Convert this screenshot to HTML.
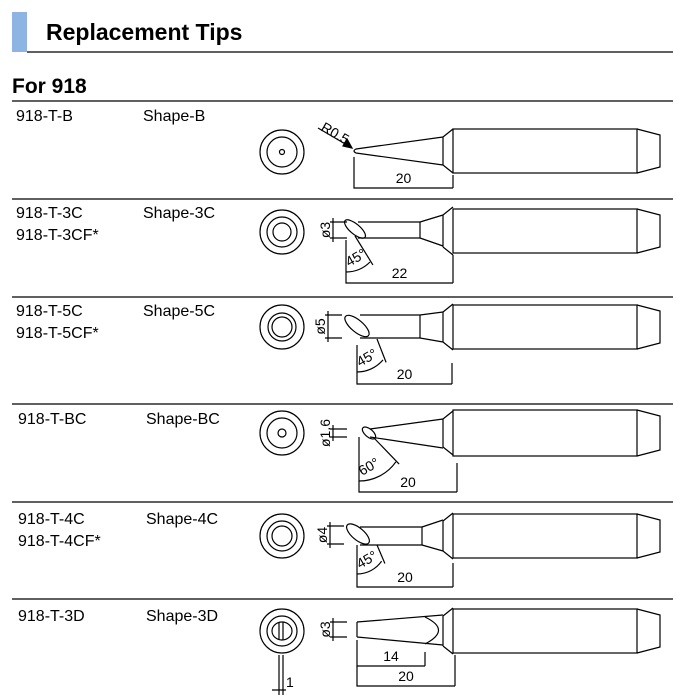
<!DOCTYPE html>
<html><head><meta charset="utf-8"><style>
html,body{margin:0;padding:0;background:#fff;width:700px;height:700px;overflow:hidden}
svg{display:block}
text{font-family:"Liberation Sans",Arial,sans-serif;fill:#000}
</style></head><body>
<svg id="s" width="700" height="700" viewBox="0 0 700 700" xmlns="http://www.w3.org/2000/svg">
<rect x="12" y="12" width="15" height="40" fill="#8db4e2"/>
<line x1="27" y1="52" x2="673" y2="52" stroke="#000" stroke-width="1.2"/>
<text x="46" y="40" font-size="23" font-weight="bold">Replacement Tips</text>
<text x="12" y="93" font-size="21" font-weight="bold">For 918</text>
<g stroke="#000" stroke-width="1.2">
<line x1="12" y1="101" x2="673" y2="101"/>
<line x1="12" y1="199" x2="673" y2="199"/>
<line x1="12" y1="297" x2="673" y2="297"/>
<line x1="12" y1="404" x2="673" y2="404"/>
<line x1="12" y1="502" x2="673" y2="502"/>
<line x1="12" y1="599" x2="673" y2="599"/>
</g>
<g font-size="16">
<text x="16" y="121">918-T-B</text><text x="143" y="121">Shape-B</text>
<text x="16" y="218">918-T-3C</text><text x="16" y="240">918-T-3CF*</text><text x="143" y="218">Shape-3C</text>
<text x="16" y="316">918-T-5C</text><text x="16" y="338">918-T-5CF*</text><text x="143" y="316">Shape-5C</text>
<text x="18" y="424">918-T-BC</text><text x="146" y="424">Shape-BC</text>
<text x="18" y="524">918-T-4C</text><text x="18" y="546">918-T-4CF*</text><text x="146" y="524">Shape-4C</text>
<text x="18" y="621">918-T-3D</text><text x="146" y="621">Shape-3D</text>
</g>
<g id="d" fill="none" stroke="#000" stroke-width="1.2"></g>
<g id="t" font-size="14"></g>
</svg>
<script>
var d=document.getElementById('d'),t=document.getElementById('t'),h='',tx='';
function body(cy,hh){
 var a=cy-hh,b=cy+hh;
 h+='<rect x="453" y="'+a+'" width="184" height="'+(2*hh)+'"/>';
 h+='<path d="M637 '+a+' L660 '+(a+6)+' L660 '+(b-6)+' L637 '+b+'"/>';
}
function collar(cy,ch){h+='<path d="M443 '+(cy-ch)+' L453 '+(cy-ch-8)+' M443 '+(cy+ch)+' L453 '+(cy+ch+8)+' M443 '+(cy-ch)+' L443 '+(cy+ch)+'"/>';}
function circ(cx,cy,rs){rs.forEach(function(r){h+='<circle cx="'+cx+'" cy="'+cy+'" r="'+r+'"/>';});}
function dim(x1,x2,y,y1a,y2a,lab){h+='<path d="M'+x1+' '+y1a+' V'+y+' H'+x2+' M'+x2+' '+y2a+' V'+y+'"/>';tx+='<text x="'+((x1+x2)/2)+'" y="'+(y-5)+'" text-anchor="middle">'+lab+'</text>';}
function dia(x,y1,y2,lab){h+='<path d="M'+(x-3)+' '+y1+' H'+(x+14)+' M'+(x-3)+' '+y2+' H'+(x+14)+' M'+x+' '+(y1-4)+' V'+(y2+4)+'"/>';tx+='<text transform="translate('+(x-3)+','+((y1+y2)/2)+') rotate(-90)" text-anchor="middle">'+lab+'</text>';}
function chisel(cx,cy,rx,ry){h+='<ellipse cx="'+cx+'" cy="'+cy+'" rx="'+rx+'" ry="'+ry+'" transform="rotate(40 '+cx+' '+cy+')"/>';}
function arc(x,y,r,ang,lab,sx,sy){var a=ang*Math.PI/180;var ex=x+r*Math.sin(a),ey=y+r*Math.cos(a);
 h+='<path d="M'+sx+' '+sy+' L'+(x+(r+4)*Math.sin(a)).toFixed(1)+' '+(y+(r+4)*Math.cos(a)).toFixed(1)+'"/>';
 h+='<path d="M'+x+' '+(y+r)+' A'+r+' '+r+' 0 0 0 '+ex.toFixed(1)+' '+ey.toFixed(1)+'"/>';
 tx+='<text transform="translate('+(x+3)+','+(y+r-5)+') rotate(-30)" font-size="14">'+lab+'</text>';}
// Row1
circ(282,152,[22,15,2.5]);
h+='<path d="M443 137 L356 149 Q352 151 356 153 L443 165"/>';collar(151,14);body(151,22);
h+='<path d="M318 128 L347 145"/><polygon points="352,148 343,146 347,139" fill="#000"/>';
tx+='<text transform="translate(320,130) rotate(30)">R0.5</text>';
dim(354,453,188,157,175,'20');
// Row2 cy 231
circ(282,232,[22,15,9]);
h+='<path d="M358 222 H420 M358 238 H420 M420 222 V238 M420 222 L443 215 M420 238 L443 246"/>';collar(231,16);body(231,22);
chisel(355,229,13,5);dia(333,222,238,'ø3');
arc(346,238,34,45,'45°',355,236);
dim(346,453,283,240,255,'22');
// Row3 cy 327
circ(282,327,[22,14,10]);
h+='<path d="M360 315 H420 M360 338 H420 M420 315 V338 M420 315 L443 312 M420 338 L443 342"/>';collar(327,15);body(327,22);
chisel(357,326,15,6);dia(328,315,338,'ø5');
arc(357,338,34,50,'45°',377,339);
dim(357,452,384,345,363,'20');
// Row4 cy 433
circ(282,433,[22,15,4]);
h+='<path d="M443 419 L370 429 M443 448 L370 437"/>';collar(433,14);body(433,23);
chisel(369,433,8,4);dia(333,429,437,'ø1.6');
arc(359,436,45,55,'60°',374,438);
dim(359,457,492,437,463,'20');
// Row5 cy 536
circ(282,536,[22,15,10]);
h+='<path d="M360 527 H422 M360 545 H422 M422 527 V545 M422 527 L443 520 M422 545 L443 551"/>';collar(536,15);body(536,22);
chisel(358,534,14,6);dia(330,526,544,'ø4');
arc(357,544,30,55,'45°',377,545);
dim(357,453,587,545,563,'20');
// Row6 cy 631
circ(282,631,[22,15]);
h+='<ellipse cx="282" cy="631" rx="10" ry="9"/><path d="M279 622 V640 M283 622 V640"/>';
h+='<path d="M357 622 L443 615 M357 637 L443 645 M357 622 V637 M425 617 Q452 630 425 644"/>';collar(631,15);body(631,22);
dia(333,622,637,'ø3');
dim(357,425,666,640,652,'14');dim(357,455,686,666,655,'20');
h+='<path d="M279 655 V695 M283 655 V695 M272 690 H286"/>';tx+='<text x="286" y="687">1</text>';
d.innerHTML=h;t.innerHTML=tx;
</script>
</body></html>
